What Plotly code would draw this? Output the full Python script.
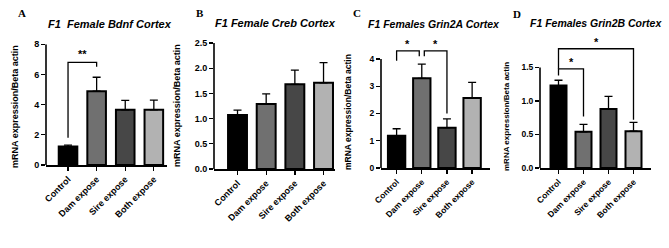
import plotly.graph_objects as go

W, H = 669, 248

categories = ["Control", "Dam expose", "Sire expose", "Both expose"]
bar_colors = ["#000000", "#707070", "#474747", "#b2b2b2"]

# Panel A: Bdnf
bdnf_mean = [1.22, 4.89, 3.66, 3.66]
bdnf_sem = [0.10, 0.92, 0.62, 0.64]
# Panel B: Creb
creb_mean = [1.07, 1.29, 1.68, 1.71]
creb_sem = [0.10, 0.20, 0.28, 0.40]
# Panel C: Grin2A
grin2a_mean = [1.18, 3.29, 1.48, 2.57]
grin2a_sem = [0.26, 0.52, 0.32, 0.57]
# Panel D: Grin2B
grin2b_mean = [1.23, 0.54, 0.88, 0.55]
grin2b_sem = [0.08, 0.11, 0.19, 0.13]

titles = ["F1  Female Bdnf Cortex", "F1 Female Creb Cortex",
          "F1 Females Grin2A Cortex", "F1 Females Grin2B Cortex"]
letters = ["A", "B", "C", "D"]
ytitle = "mRNA expression/Beta actin"

# significance brackets: (from_idx, to_idx, y_left, y_top, y_right, label, label_y, x_offsets)
sig_A = [(0, 1, 1.8, 6.8, 6.5, "**", 7.35, (0, 0))]
sig_C = [(0, 1, 3.94, 4.3, 4.1, "*", 4.55, (0, -0.1)),
         (1, 2, 4.1, 4.3, 2.0, "*", 4.55, (0.1, 0))]
sig_D = [(0, 1, 1.38, 1.48, 0.77, "*", 1.58, (0, 0)),
         (0, 3, 1.48, 1.78, 0.72, "*", 1.88, (0, 0))]

# layout spec (pixels): y-axis x, x-axis end, y of zero, px per unit, range top, tick vals
panels = [
    dict(mean=bdnf_mean, sem=bdnf_sem, xl=46, xr=167, xr0=-0.77, xr1=3.46, bw=0.65,
         y0=165, ppu=15.1, top=8.0, ticks=[0, 2, 4, 6, 8], fmt="{:.0f}", sig=sig_A,
         tpos=(110, 24), tsize=11, lpos=(22, 13), ytpos=(15, 107), ytsize=9, tick=9),
    dict(mean=creb_mean, sem=creb_sem, xl=214, xr=335, xr0=-0.82, xr1=3.40, bw=0.66,
         y0=169, ppu=50.4, top=2.5, ticks=[0, 0.5, 1.0, 1.5, 2.0, 2.5], fmt="{:.1f}", sig=[],
         tpos=(275, 23), tsize=11, lpos=(200, 13), ytpos=(177, 106), ytsize=9, tick=9),
    dict(mean=grin2a_mean, sem=grin2a_sem, xl=381, xr=490, xr0=-0.62, xr1=3.71, bw=0.69,
         y0=168, ppu=27.25, top=4.75, ticks=[0, 1, 2, 3, 4], fmt="{:.0f}", sig=sig_C,
         tpos=(434, 24), tsize=10.5, lpos=(357, 13), ytpos=(348, 112), ytsize=8.5, tick=8.5),
    dict(mean=grin2b_mean, sem=grin2b_sem, xl=540, xr=651, xr0=-0.74, xr1=3.70, bw=0.64,
         y0=168, ppu=67.0, top=2.0, ticks=[0, 0.5, 1.0, 1.5], fmt="{:.1f}", sig=sig_D,
         tpos=(596, 23), tsize=10.5, lpos=(517, 14), ytpos=(506, 117), ytsize=8, tick=8.5),
]

FONT = "Liberation Sans, Arial, sans-serif"
fig = go.Figure()
layout = dict(width=W, height=H, margin=dict(l=0, r=0, t=0, b=0, autoexpand=False),
              plot_bgcolor="white", paper_bgcolor="white", showlegend=False,
              font=dict(family=FONT, color="black"))
shapes = []
annotations = []

for i, p in enumerate(panels):
    n = "" if i == 0 else str(i + 1)
    xa, ya = "x" + n, "y" + n
    xs = list(range(len(categories)))
    fig.add_trace(go.Bar(
        x=xs, y=p["mean"], width=p["bw"], xaxis=xa, yaxis=ya,
        marker=dict(color=bar_colors, line=dict(color="black", width=2)),
        error_y=dict(type="data", array=p["sem"], arrayminus=[0] * 4, symmetric=False,
                     color="black", thickness=1.3, width=4),
    ))
    ytop_px = p["y0"] - p["top"] * p["ppu"]
    layout["xaxis" + n] = dict(
        domain=[p["xl"] / W, p["xr"] / W], anchor=ya, range=[p["xr0"], p["xr1"]],
        tickvals=xs, ticktext=["<b>%s</b>" % c for c in categories], tickangle=-45,
        showline=True, linecolor="black", linewidth=1.6, ticks="outside", ticklen=4,
        tickwidth=1.3, tickcolor="black", showgrid=False, zeroline=False, automargin=False,
        tickfont=dict(size=p["tick"], family=FONT, color="black"), fixedrange=True)
    layout["yaxis" + n] = dict(
        domain=[1 - p["y0"] / H, 1 - ytop_px / H], anchor=xa, range=[0, p["top"]],
        tickvals=p["ticks"], ticktext=["<b>%s</b>" % p["fmt"].format(t) for t in p["ticks"]],
        showline=False, ticks="outside", ticklen=4, tickwidth=1.3, tickcolor="black",
        showgrid=False, zeroline=False, automargin=False,
        tickfont=dict(size=p["tick"], family=FONT, color="black"), fixedrange=True)
    # y spine from 0 to top tick
    shapes.append(dict(type="line", xref=xa + " domain", yref=ya, x0=0, x1=0,
                       y0=0, y1=p["ticks"][-1], line=dict(color="black", width=1.6)))
    for (a, b, yl, yt, yr, lab, ly, off) in p["sig"]:
        xa0 = xs[a] + off[0]
        xb0 = xs[b] + off[1]
        shapes.append(dict(type="path", xref=xa, yref=ya,
                           path=f"M {xa0},{yl} L {xa0},{yt} L {xb0},{yt} L {xb0},{yr}",
                           line=dict(color="black", width=1.3)))
        annotations.append(dict(x=(xa0 + xb0) / 2, y=ly, xref=xa, yref=ya, text="<b>%s</b>" % lab,
                                showarrow=False, font=dict(size=11, family=FONT, color="black"),
                                xanchor="center", yanchor="middle"))
    annotations.append(dict(x=p["tpos"][0] / W, y=1 - p["tpos"][1] / H, xref="paper", yref="paper",
                            text="<b><i>%s</i></b>" % titles[i], showarrow=False,
                            font=dict(size=p["tsize"], family=FONT, color="black"),
                            xanchor="center", yanchor="middle"))
    annotations.append(dict(x=p["lpos"][0] / W, y=1 - p["lpos"][1] / H, xref="paper", yref="paper",
                            text="<b>%s</b>" % letters[i], showarrow=False,
                            font=dict(size=11, family="Liberation Serif, Times New Roman, serif",
                                      color="black"),
                            xanchor="center", yanchor="middle"))
    annotations.append(dict(x=p["ytpos"][0] / W, y=1 - p["ytpos"][1] / H, xref="paper", yref="paper",
                            text="<b>%s</b>" % ytitle, showarrow=False, textangle=-90,
                            font=dict(size=p["ytsize"], family=FONT, color="black"),
                            xanchor="center", yanchor="middle"))

layout["shapes"] = shapes
layout["annotations"] = annotations
layout["hovermode"] = False
fig.update_layout(**layout)
fig.write_html("out.html", config={"displayModeBar": False, "staticPlot": True},
               post_script="document.body.style.margin='0px';")
